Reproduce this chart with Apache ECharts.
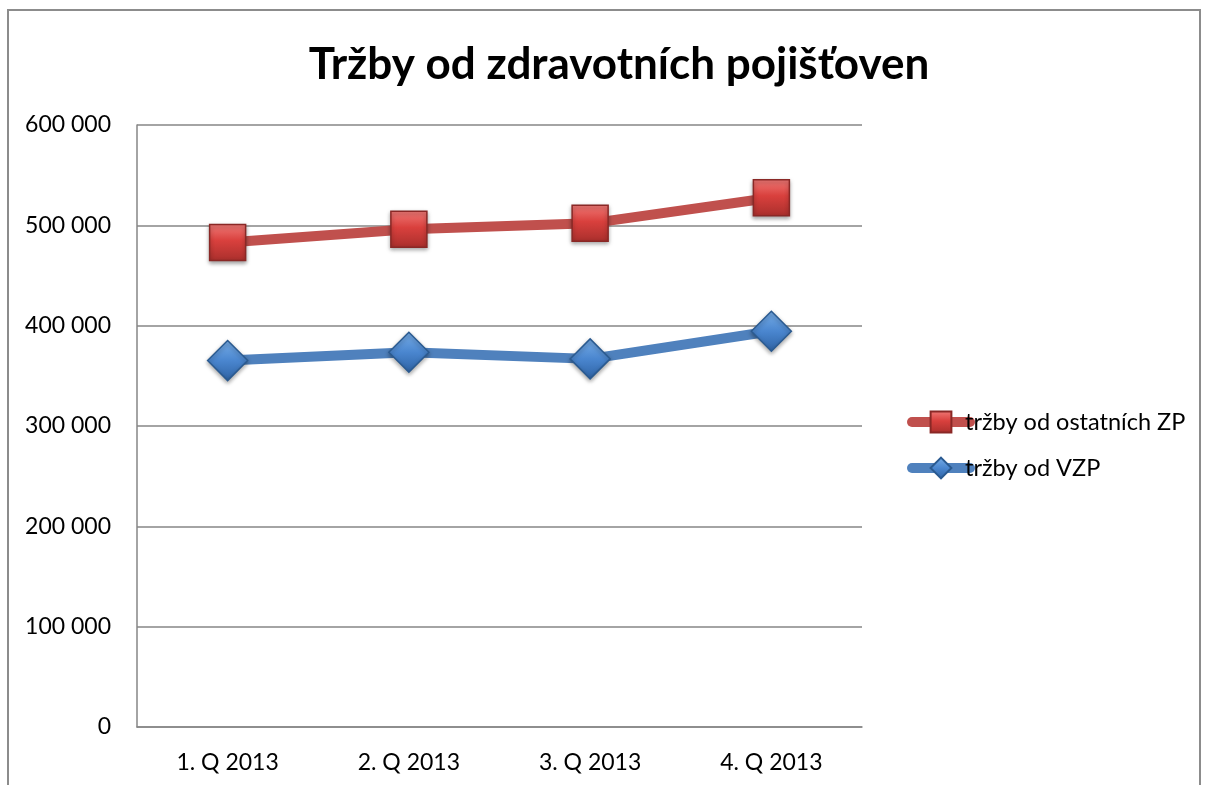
<!DOCTYPE html>
<html><head><meta charset="utf-8">
<script src="https://cdn.jsdelivr.net/npm/echarts@6/dist/echarts.min.js"></script>
<style>html,body{margin:0;padding:0;background:#fff}#c{width:1206px;height:785px}</style>
</head><body><div id="c"></div>
<script>
const title = 'Tržby od zdravotních pojišťoven';
const categories = ['1. Q 2013', '2. Q 2013', '3. Q 2013', '4. Q 2013'];
const seriesOstatni = [482800, 496000, 502000, 527500];
const seriesVZP = [365200, 373500, 366900, 394400];
const nameOstatni = 'tržby od ostatních ZP';
const nameVZP = 'tržby od VZP';

const FONT = 'Lato, "Open Sans", sans-serif';
const chart = echarts.init(document.getElementById('c'));
const redGrad = new echarts.graphic.LinearGradient(0,0,0,1,[{offset:0,color:'#F07A77'},{offset:0.45,color:'#D9403D'},{offset:1,color:'#A92F2C'}]);
const blueGrad = new echarts.graphic.LinearGradient(0,0,0,1,[{offset:0,color:'#78AEE8'},{offset:0.5,color:'#4A86CF'},{offset:1,color:'#2E62A3'}]);
chart.setOption({
  animation:false,
  title:{text:title,left:614,top:38,textAlign:'center',textStyle:{fontFamily:FONT,fontWeight:'bold',fontSize:44,color:'#000'}},
  graphic:[{type:'rect',shape:{x:8,y:10,width:1192,height:800},style:{fill:'none',stroke:'#8c8c8c',lineWidth:2},silent:true,z:-1}],
  grid:{left:137,right:344,top:125,bottom:58,containLabel:false},
  legend:{orient:'vertical',left:902,top:405,itemWidth:58,itemHeight:26,itemGap:22,
    lineStyle:{width:10,cap:'round'},
    textStyle:{fontFamily:FONT,fontSize:23.5,color:'#000',padding:[0,0,0,-10]},
    data:[nameOstatni,nameVZP]},
  xAxis:{type:'category',data:categories,boundaryGap:true,
    axisLine:{lineStyle:{color:'#868686',width:1.5}},axisTick:{show:false},
    axisLabel:{fontFamily:FONT,fontSize:23,color:'#000',margin:24}},
  yAxis:{type:'value',min:0,max:600000,interval:100000,
    axisLine:{show:true,lineStyle:{color:'#868686',width:1.5}},axisTick:{show:false},
    splitLine:{lineStyle:{color:'#868686',width:1.5}},
    axisLabel:{fontFamily:FONT,fontSize:23,color:'#000',margin:26,
      formatter:v=>String(v).replace(/\B(?=(\d{3})+(?!\d))/g,' ')}},
  series:[
    {name:nameOstatni,type:'line',data:seriesOstatni,symbol:'rect',symbolSize:36,
      lineStyle:{color:'#C0504D',width:10},
      itemStyle:{color:redGrad,borderColor:'#8A2826',borderWidth:1.5,shadowColor:'rgba(0,0,0,0.35)',shadowBlur:4,shadowOffsetY:2}},
    {name:nameVZP,type:'line',data:seriesVZP,symbol:'diamond',symbolSize:[40,40],
      lineStyle:{color:'#4F81BD',width:10},
      itemStyle:{color:blueGrad,borderColor:'#2A5A90',borderWidth:1.5,shadowColor:'rgba(0,0,0,0.35)',shadowBlur:4,shadowOffsetY:2}}
  ]
});
</script></body></html>
